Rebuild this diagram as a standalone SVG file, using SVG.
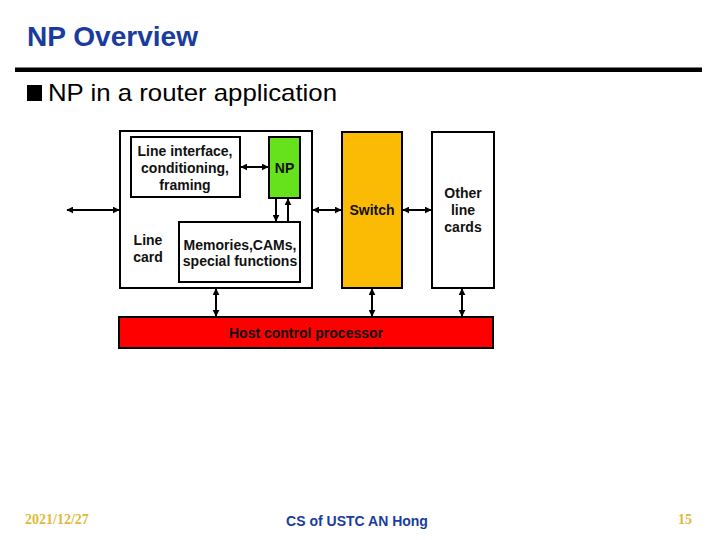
<svg xmlns="http://www.w3.org/2000/svg" width="720" height="540" viewBox="0 0 720 540">
<style>
.box{stroke:#000;stroke-width:2}
.lbl{font-family:"Liberation Sans",Arial,sans-serif;font-size:14px;font-weight:bold;fill:#111;text-anchor:middle}
.con{stroke:#000;stroke-width:2;fill:none;marker-start:url(#ah);marker-end:url(#ah)}
.one{stroke:#000;stroke-width:2;fill:none;marker-end:url(#ah)}
</style>
<defs>
<marker id="ah" viewBox="0 0 10 10" refX="9" refY="5" markerWidth="3.5" markerHeight="3.5" orient="auto-start-reverse" markerUnits="strokeWidth">
<path d="M0,0 L10,5 L0,10 z" fill="#000"/>
</marker>
</defs>
<rect width="720" height="540" fill="#fff"/>
<text x="27" y="46" font-family="Liberation Sans,Arial,sans-serif" font-size="28" font-weight="bold" fill="#1a3c9c" textLength="171" lengthAdjust="spacingAndGlyphs">NP Overview</text>
<rect x="15" y="67.5" width="687" height="4.5" fill="#000"/>
<rect x="27" y="85" width="15" height="16" fill="#000"/>
<text x="48" y="101" font-family="Liberation Sans,Arial,sans-serif" font-size="24" fill="#000" textLength="289" lengthAdjust="spacingAndGlyphs">NP in a router application</text>

<g id="linecard">
<rect class="box" x="120" y="131" width="192" height="157" fill="#fff"/>
<text class="lbl" x="148" y="245">Line</text>
<text class="lbl" x="148" y="262">card</text>
</g>
<g id="lineinterface">
<rect class="box" x="131" y="137" width="109" height="60" fill="#fff"/>
<text class="lbl" x="185" y="156">Line interface,</text>
<text class="lbl" x="185" y="173">conditioning,</text>
<text class="lbl" x="185" y="190">framing</text>
</g>
<g id="np">
<rect class="box" x="269" y="137" width="31" height="61" fill="#66e21c"/>
<text class="lbl" x="284.5" y="173">NP</text>
</g>
<g id="memories">
<rect class="box" x="179" y="222" width="121" height="60" fill="#fff"/>
<text class="lbl" x="240" y="250">Memories,CAMs,</text>
<text class="lbl" x="240" y="266">special functions</text>
</g>
<g id="switch">
<rect class="box" x="342" y="132" width="60" height="156" fill="#fbbb04"/>
<text class="lbl" x="372" y="215">Switch</text>
</g>
<g id="other">
<rect class="box" x="432" y="132" width="62" height="156" fill="#fff"/>
<text class="lbl" x="463" y="198">Other</text>
<text class="lbl" x="463" y="215">line</text>
<text class="lbl" x="463" y="232">cards</text>
</g>
<g id="host">
<rect class="box" x="119" y="317" width="374" height="31" fill="#ff0000"/>
<text class="lbl" x="306" y="338">Host control processor</text>
</g>

<g id="connectors">
<line class="con" x1="67" y1="210" x2="119" y2="210"/>
<line class="con" x1="241" y1="167" x2="268" y2="167"/>
<line class="one" x1="276" y1="199" x2="276" y2="221"/>
<line class="one" x1="288" y1="221" x2="288" y2="199"/>
<line class="con" x1="313" y1="210" x2="341" y2="210"/>
<line class="con" x1="403" y1="210" x2="431" y2="210"/>
<line class="con" x1="216" y1="289" x2="216" y2="316"/>
<line class="con" x1="372" y1="289" x2="372" y2="316"/>
<line class="con" x1="462" y1="289" x2="462" y2="316"/>
</g>

<text x="25" y="524" font-family="Liberation Serif,Times New Roman,serif" font-size="14" font-weight="bold" fill="#e0b83a">2021/12/27</text>
<text x="357" y="526" font-family="Liberation Sans,Arial,sans-serif" font-size="14" font-weight="bold" fill="#1a3c9c" text-anchor="middle">CS of USTC AN Hong</text>
<text x="692" y="524" font-family="Liberation Serif,Times New Roman,serif" font-size="14" font-weight="bold" fill="#e0b83a" text-anchor="end">15</text>
</svg>
